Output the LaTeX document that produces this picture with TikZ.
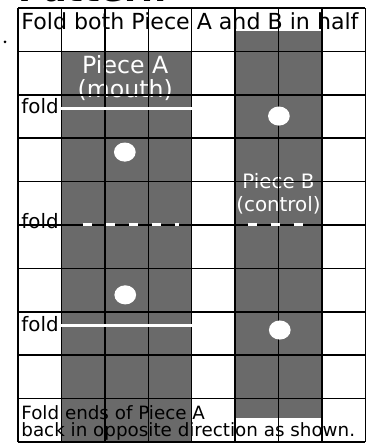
\documentclass[tikz,border=0pt]{standalone}
\usepackage{fontspec}
\setmainfont{DejaVu Sans}
\definecolor{pieceGray}{RGB}{106,106,106}
\tikzset{
  gridline/.style={line width=1pt,black},
  foldline/.style={white,line width=2pt},
  foldtext/.style={anchor=west,inner sep=0pt,font=\fontsize{13}{13}\selectfont},
  piecetext/.style={white,inner sep=0pt,font=\fontsize{13}{13}\selectfont},
  hole/.style={white}
}
\begin{document}
\begin{tikzpicture}[x=1cm,y=1cm]
	\useasboundingbox (-0.416,-0.046) rectangle (8.301,10.184);
	\node[anchor=base west,inner sep=0pt,font=\bfseries\fontsize{23}{23}\selectfont] (title) at (0,10.16) {Pattern};
	\fill (-0.3,9.22) circle (0.035);
	% the two pieces
	\fill[pieceGray] (1,0) rectangle (4,9);
	\fill[pieceGray] (5,0.55) rectangle (7,9.47);
	\node[anchor=west,inner sep=0pt,font=\fontsize{14.5}{14.5}\selectfont] (top) at (0.07,9.69) {Fold both Piece A and B in half};
	\node[piecetext,font=\fontsize{15.5}{15.5}\selectfont] (pieceA) at (2.47,8.69) {Piece A};
	\node[piecetext,font=\fontsize{15.5}{15.5}\selectfont] (mouth) at (2.47,8.1) {(mouth)};
	\node[piecetext] (pieceB) at (6.0,6.0) {Piece B};
	\node[piecetext] (control) at (6.0,5.46) {(control)};
	\node[foldtext] (fold1) at (0.07,7.74) {fold};
	\node[foldtext] (fold2) at (0.07,5.1) {fold};
	\node[foldtext] (fold3) at (0.07,2.72) {fold};
	\node[anchor=west,inner sep=0pt,font=\fontsize{12}{12}\selectfont] (note1) at (0.07,0.68) {Fold ends of Piece A};
	\node[anchor=west,inner sep=0pt,font=\fontsize{12}{12}\selectfont] (note2) at (0.07,0.24) {back in opposite direction as shown.};
	% grid
	\draw[gridline] (0,0) grid (8,10);
	% fold lines
	\draw[foldline] (1,7.69) -- (4,7.69);
	\draw[foldline] (1,2.68) -- (4,2.68);
	\draw[foldline,dash pattern=on 6pt off 9pt] (1.5,5.02) -- (3.7,5.02);
	\draw[foldline,dash pattern=on 6pt off 9pt] (5.3,5.02) -- (6.85,5.02);
	% holes
	\foreach \p in {(2.46,6.68),(2.47,3.39),(6.01,7.51),(6.03,2.58)}
	\fill[hole] \p ellipse (0.25 and 0.22);
\end{tikzpicture}
\end{document}
